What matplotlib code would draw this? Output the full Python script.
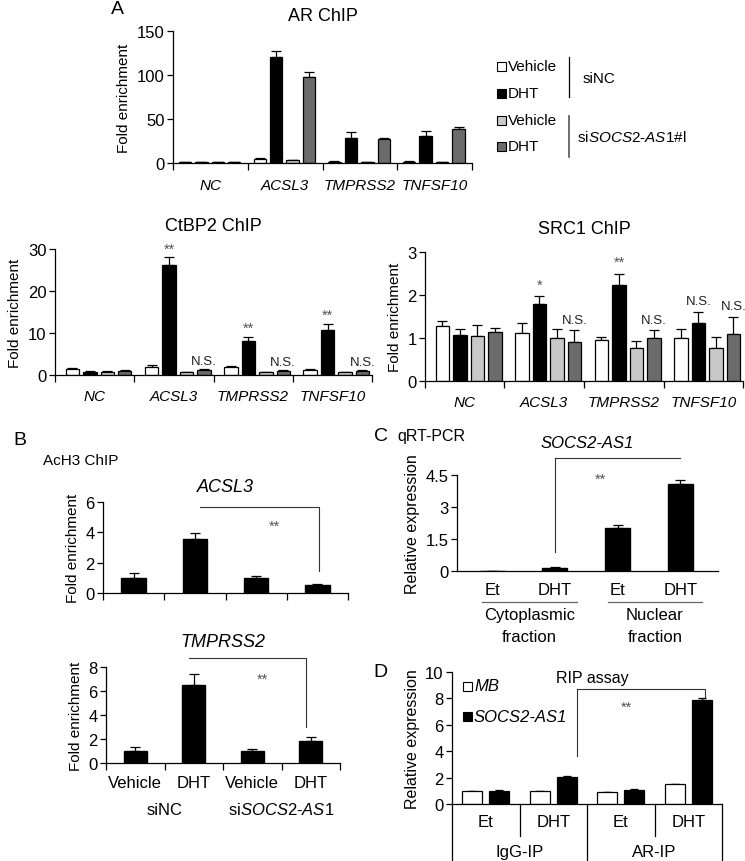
import matplotlib
matplotlib.use("Agg")
import matplotlib.pyplot as plt
import numpy as np
from matplotlib.patches import Rectangle

plt.rcParams['font.family'] = ['Liberation Sans', 'DejaVu Sans']
plt.rcParams['mathtext.fontset'] = 'custom'
plt.rcParams['mathtext.rm'] = 'Liberation Sans'
plt.rcParams['mathtext.it'] = 'Liberation Sans:italic'
plt.rcParams['mathtext.bf'] = 'Liberation Sans:bold'

W, H = 745, 862
fig = plt.figure(figsize=(W / 100, H / 100), dpi=100)

def px_axes(x0, y0, x1, y1):
    return fig.add_axes([x0 / W, 1 - y1 / H, (x1 - x0) / W, (y1 - y0) / H])

# ---------------- DATA ----------------
genes = ['NC', 'ACSL3', 'TMPRSS2', 'TNFSF10']
series_names = ['Vehicle siNC', 'DHT siNC', 'Vehicle siSOCS2-AS1', 'DHT siSOCS2-AS1']
series_colors = ['#ffffff', '#000000', '#c8c8c8', '#6b6b6b']

ar_veh_nc = [1.2, 4.5, 1.5, 1.5]
ar_dht_nc = [1.0, 120.8, 28.0, 30.3]
ar_veh_si = [1.2, 3.0, 1.2, 1.2]
ar_dht_si = [1.3, 97.4, 27.3, 38.6]
ar_err_veh_nc = [0.3, 1.0, 0.3, 0.3]
ar_err_dht_nc = [0.3, 6.8, 6.9, 5.7]
ar_err_veh_si = [0.3, 0.5, 0.3, 0.3]
ar_err_dht_si = [0.3, 5.6, 1.1, 2.7]

ctbp2_veh_nc = [1.4, 2.0, 1.9, 1.3]
ctbp2_dht_nc = [0.8, 26.3, 8.0, 10.8]
ctbp2_veh_si = [0.8, 0.6, 0.6, 0.6]
ctbp2_dht_si = [1.0, 1.2, 1.0, 0.9]
ctbp2_err_veh_nc = [0.2, 0.3, 0.2, 0.2]
ctbp2_err_dht_nc = [0.1, 1.7, 1.0, 1.3]
ctbp2_err_veh_si = [0.1, 0.1, 0.1, 0.1]
ctbp2_err_dht_si = [0.1, 0.3, 0.2, 0.2]
ctbp2_marks = [['', '', '', ''], ['', '**', '', 'N.S.'], ['', '**', '', 'N.S.'], ['', '**', '', 'N.S.']]

src1_veh_nc = [1.27, 1.11, 0.95, 1.00]
src1_dht_nc = [1.08, 1.78, 2.24, 1.34]
src1_veh_si = [1.04, 0.99, 0.77, 0.76]
src1_dht_si = [1.15, 0.90, 0.99, 1.09]
src1_err_veh_nc = [0.12, 0.24, 0.08, 0.21]
src1_err_dht_nc = [0.13, 0.19, 0.26, 0.27]
src1_err_veh_si = [0.27, 0.23, 0.16, 0.27]
src1_err_dht_si = [0.08, 0.29, 0.19, 0.41]
src1_marks = [['', '', '', ''], ['', '*', '', 'N.S.'], ['', '**', '', 'N.S.'], ['', 'N.S.', '', 'N.S.']]

b_conditions = ['Vehicle', 'DHT', 'Vehicle', 'DHT']
acsl3_ach3 = [1.0, 3.55, 1.0, 0.52]
acsl3_ach3_err = [0.3, 0.42, 0.1, 0.07]
tmprss2_ach3 = [1.0, 6.5, 1.0, 1.8]
tmprss2_ach3_err = [0.3, 0.9, 0.15, 0.4]

c_conditions = ['Et', 'DHT', 'Et', 'DHT']
c_fractions = ['Cytoplasmic\nfraction', 'Nuclear\nfraction']
socs2_expr = [0.02, 0.15, 2.0, 4.08]
socs2_expr_err = [0.0, 0.03, 0.16, 0.19]

d_conditions = ['Et', 'DHT', 'Et', 'DHT']
d_ips = ['IgG-IP', 'AR-IP']
rip_mb = [1.0, 0.95, 0.88, 1.48]
rip_mb_err = [0.02, 0.02, 0.02, 0.05]
rip_socs2 = [1.02, 2.05, 1.07, 7.85]
rip_socs2_err = [0.05, 0.1, 0.04, 0.15]

FS_TICK = 12
FS_LAB = 11
FS_TITLE = 13
STAR_C = '#555555'


def style(ax, ylim, yticks, ylabel, ylabel_fs=FS_LAB):
    for s in ['top', 'right']:
        ax.spines[s].set_visible(False)
    ax.spines['left'].set_linewidth(0.9)
    ax.spines['bottom'].set_linewidth(0.9)
    ax.set_ylim(*ylim)
    ax.set_yticks(yticks)
    ax.tick_params(axis='y', direction='out', length=4, width=0.9, labelsize=FS_TICK, pad=2)
    ax.set_ylabel(ylabel, fontsize=ylabel_fs, labelpad=4)


def grouped(ax, vals, errs, shift, width, pitch):
    n = len(vals)
    centers = np.arange(len(vals[0])) + 0.5
    xs_all = []
    for k in range(n):
        xs = centers + (k - (n - 1) / 2) * pitch + shift
        ax.bar(xs, vals[k], width=width, color=series_colors[k], edgecolor='black', linewidth=0.9, zorder=2)
        ax.errorbar(xs, vals[k], yerr=[np.zeros(len(xs)), errs[k]], fmt='none', ecolor='black',
                    elinewidth=0.9, capsize=3.5, capthick=0.9, zorder=1)
        xs_all.append(xs)
    ax.set_xlim(0, len(vals[0]))
    ax.set_xticks(np.arange(len(vals[0]) + 1))
    ax.set_xticklabels([])
    ax.tick_params(axis='x', direction='out', length=5, width=0.9)
    for i, g in enumerate(genes):
        ax.text(centers[i], -0.11, g, transform=ax.get_xaxis_transform(), ha='center', va='top',
                fontsize=FS_LAB, style='italic')
    return xs_all


# ---------------- A: AR ChIP ----------------
axA = px_axes(173, 32, 472, 164)
style(axA, (0, 150), [0, 50, 100, 150], 'Fold enrichment')
grouped(axA, [ar_veh_nc, ar_dht_nc, ar_veh_si, ar_dht_si],
        [ar_err_veh_nc, ar_err_dht_nc, ar_err_veh_si, ar_err_dht_si], -0.01, 0.165, 0.22)
axA.set_title('AR ChIP', fontsize=FS_TITLE, pad=8)
fig.text(117 / W, 1 - 9 / H, 'A', fontsize=14, ha='center', va='center')

# legend of A
leg_rows_y = [67, 94, 121, 147]
leg_labels = ['Vehicle', 'DHT', 'Vehicle', 'DHT']
for k, yy in enumerate(leg_rows_y):
    fig.patches.append(Rectangle((497 / W, 1 - (yy + 4.5) / H), 9 / W, 9 / H, transform=fig.transFigure,
                                 facecolor=series_colors[k], edgecolor='black', linewidth=0.8))
    fig.text(508 / W, 1 - yy / H, leg_labels[k], fontsize=FS_LAB, va='center', ha='left')
fig.add_artist(plt.Line2D([569 / W, 569 / W], [1 - 58 / H, 1 - 98 / H], color='black', lw=0.9))
fig.add_artist(plt.Line2D([569 / W, 569 / W], [1 - 117 / H, 1 - 158 / H], color='#555555', lw=1.2))
fig.text(583 / W, 1 - 79 / H, 'siNC', fontsize=FS_LAB, va='center', ha='left')
fig.text(577 / W, 1 - 137 / H, 'si$\\it{SOCS2}$-$\\it{AS1}$#l', fontsize=FS_LAB, va='center', ha='left')


def marks(ax, xs_all, vals, errs, mk, off):
    for k in range(len(xs_all)):
        for i in range(len(xs_all[k])):
            m = mk[i][k]
            if m:
                fs = 10.5 if '*' in m else 9.5
                col = STAR_C if '*' in m else '#222222'
                ax.text(xs_all[k][i], vals[k][i] + errs[k][i] + off, m, ha='center', va='bottom',
                        fontsize=fs, color=col)


# ---------------- CtBP2 ----------------
axC1 = px_axes(55, 250, 372, 376)
style(axC1, (0, 30), [0, 10, 20, 30], 'Fold enrichment')
v = [ctbp2_veh_nc, ctbp2_dht_nc, ctbp2_veh_si, ctbp2_dht_si]
e = [ctbp2_err_veh_nc, ctbp2_err_dht_nc, ctbp2_err_veh_si, ctbp2_err_dht_si]
xs = grouped(axC1, v, e, 0.05, 0.17, 0.22)
marks(axC1, xs, v, e, ctbp2_marks, 0.5)
axC1.set_title('CtBP2 ChIP', fontsize=FS_TITLE, pad=14)

# ---------------- SRC1 ----------------
axS = px_axes(425, 253, 743, 382)
style(axS, (0, 3), [0, 1, 2, 3], 'Fold enrichment')
v = [src1_veh_nc, src1_dht_nc, src1_veh_si, src1_dht_si]
e = [src1_err_veh_nc, src1_err_dht_nc, src1_err_veh_si, src1_err_dht_si]
xs = grouped(axS, v, e, 0.05, 0.17, 0.22)
marks(axS, xs, v, e, src1_marks, 0.1)
axS.set_title('SRC1 ChIP', fontsize=FS_TITLE, pad=14)

# ---------------- B ----------------
fig.text(20 / W, 1 - 441 / H, 'B', fontsize=14, ha='center', va='center')
fig.text(43 / W, 1 - 461 / H, 'AcH3 ChIP', fontsize=11, ha='left', va='center')


def single_bars(ax, vals, errs, width):
    x = np.arange(len(vals))
    ax.bar(x, vals, width=width, color='black', edgecolor='black', zorder=2)
    ax.errorbar(x, vals, yerr=[np.zeros(len(x)), errs], fmt='none', ecolor='black', elinewidth=0.9,
                capsize=3.5, capthick=0.9, zorder=1)
    return x


axB1 = px_axes(103, 503, 348, 594)
style(axB1, (0, 6), [0, 2, 4, 6], 'Fold enrichment')
xb = single_bars(axB1, acsl3_ach3, acsl3_ach3_err, 0.4)
axB1.set_xlim(-0.5, 3.5)
axB1.set_xticks(np.arange(5) - 0.5)
axB1.set_xticklabels([])
axB1.tick_params(axis='x', direction='out', length=5, width=0.9)
axB1.set_title('ACSL3', fontsize=FS_TITLE, style='italic', pad=8)
axB1.plot([xb[1] + 0.09, xb[3] + 0.03, xb[3] + 0.03], [5.7, 5.7, 1.45], color='#333333', lw=0.8,
          clip_on=False)
axB1.text(2.3, 4.4, '**', ha='center', va='center', fontsize=10.5, color=STAR_C)

axB2 = px_axes(106, 668, 340, 764)
style(axB2, (0, 8), [0, 2, 4, 6, 8], 'Fold enrichment')
xb = single_bars(axB2, tmprss2_ach3, tmprss2_ach3_err, 0.4)
axB2.set_xlim(-0.5, 3.5)
axB2.set_xticks(np.arange(5) - 0.5)
axB2.set_xticklabels([])
axB2.tick_params(axis='x', direction='out', length=5, width=0.9)
for i, c in enumerate(b_conditions):
    axB2.text(xb[i], -0.2, c, transform=axB2.get_xaxis_transform(), ha='center', va='center', fontsize=FS_TICK)
axB2.text(0.5, -0.48, 'siNC', transform=axB2.get_xaxis_transform(), ha='center', va='center', fontsize=FS_TICK)
axB2.text(2.5, -0.48, 'si$\\it{SOCS2}$-$\\it{AS1}$', transform=axB2.get_xaxis_transform(), ha='center',
          va='center', fontsize=FS_TICK)
axB2.set_title('TMPRSS2', fontsize=FS_TITLE, style='italic', pad=15)
axB2.plot([xb[1] - 0.08, xb[3] - 0.08, xb[3] - 0.08], [8.75, 8.75, 3.0], color='#333333', lw=0.8,
          clip_on=False)
axB2.text(2.17, 7.0, '**', ha='center', va='center', fontsize=10.5, color=STAR_C)

# ---------------- C ----------------
fig.text(381 / W, 1 - 437 / H, 'C', fontsize=14, ha='center', va='center')
fig.text(397 / W, 1 - 437 / H, 'qRT-PCR', fontsize=11.5, ha='left', va='center')
axCq = px_axes(457, 476, 718, 572)
style(axCq, (0, 4.5), [0, 1.5, 3, 4.5], 'Relative expression', ylabel_fs=11.5)
axCq.set_yticklabels(['0', '1.5', '3', '4.5'])
xc = single_bars(axCq, socs2_expr, socs2_expr_err, 0.4)
axCq.set_xlim(-0.56, 3.6)
axCq.set_xticks([])
axCq.set_title('SOCS2-AS1', fontsize=12, style='italic', pad=20)
for i, c in enumerate(c_conditions):
    axCq.text(xc[i], -0.19, c, transform=axCq.get_xaxis_transform(), ha='center', va='center', fontsize=FS_TICK)
for j, f in enumerate(c_fractions):
    x0, x1 = xc[2 * j] - 0.16, xc[2 * j + 1] + 0.35
    axCq.plot([x0, x1], [-0.32, -0.32], transform=axCq.get_xaxis_transform(), color='#666666', lw=0.9,
              clip_on=False)
    axCq.text((x0 + x1) / 2, -0.38, f, transform=axCq.get_xaxis_transform(), ha='center', va='top',
              fontsize=FS_TICK, linespacing=1.55)
axCq.plot([xc[1] + 0.0, xc[3], xc[3]], [5.3, 5.3, 5.3], color='#333333', lw=0.8, clip_on=False)
axCq.plot([xc[1] + 0.0, xc[1] + 0.0], [5.3, 0.9], color='#333333', lw=0.8, clip_on=False)
axCq.text(1.72, 4.3, '**', ha='center', va='center', fontsize=10.5, color=STAR_C)

# ---------------- D ----------------
fig.text(380 / W, 1 - 673 / H, 'D', fontsize=14, ha='center', va='center')
axD = px_axes(452, 673, 722, 805)
style(axD, (0, 10), [0, 2, 4, 6, 8, 10], 'Relative expression', ylabel_fs=11.5)
xd = np.arange(len(rip_mb))
bw = 0.3
axD.bar(xd - 0.2, rip_mb, width=bw, color='white', edgecolor='black', linewidth=0.9, zorder=2, label='MB')
axD.bar(xd + 0.2, rip_socs2, width=bw, color='black', edgecolor='black', linewidth=0.9, zorder=2,
        label='SOCS2-AS1')
axD.errorbar(xd - 0.2, rip_mb, yerr=[np.zeros(4), rip_mb_err], fmt='none', ecolor='black', elinewidth=0.9,
             capsize=3, capthick=0.9, zorder=1)
axD.errorbar(xd + 0.2, rip_socs2, yerr=[np.zeros(4), rip_socs2_err], fmt='none', ecolor='black',
             elinewidth=0.9, capsize=3, capthick=0.9, zorder=1)
axD.set_xlim(-0.5, 3.5)
axD.set_xticks([])
axD.text(0.52, 0.955, 'RIP assay', transform=axD.transAxes, ha='center', va='center', fontsize=FS_LAB + 0.5)
# table below D
tr = axD.get_xaxis_transform()
for xv, full in [(-0.5, True), (0.5, False), (1.5, True), (2.5, False), (3.5, True)]:
    y_end = -0.45 if full else -0.24
    axD.plot([xv, xv], [0, y_end], transform=tr, color='black', lw=0.9, clip_on=False)
for i, c in enumerate(d_conditions):
    axD.text(xd[i], -0.135, c, transform=tr, ha='center', va='center', fontsize=FS_TICK)
for j, g in enumerate(d_ips):
    axD.text(0.5 + 2 * j, -0.36, g, transform=tr, ha='center', va='center', fontsize=FS_TICK)
# legend D
leg_items = [('MB', 'white'), ('SOCS2-AS1', 'black')]
for k, (lab, col) in enumerate(leg_items):
    yy = 687 + 30 * k
    fig.patches.append(Rectangle((463 / W, 1 - (yy + 4.5) / H), 9 / W, 9 / H, transform=fig.transFigure,
                                 facecolor=col, edgecolor='black', linewidth=0.8))
    fig.text(474 / W, 1 - yy / H, lab, fontsize=FS_TICK, style='italic', va='center', ha='left')
# bracket D
axD.plot([1.35, 3.25, 3.25], [8.7, 8.7, 8.1], color='#333333', lw=0.8, clip_on=False)
axD.plot([1.35, 1.35], [8.7, 3.6], color='#333333', lw=0.8, clip_on=False)
axD.text(2.09, 7.35, '**', ha='center', va='center', fontsize=10.5, color=STAR_C)

fig.savefig('out.png', dpi=100)
